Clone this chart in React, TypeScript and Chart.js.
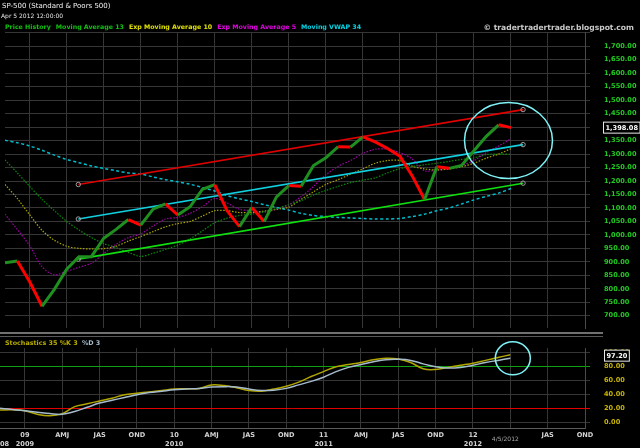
import React, { useEffect, useRef } from "react";
import { Chart, registerables } from "chart.js";

Chart.register(...registerables);

// ---------- data ----------
const MONTHS = [
  "Nov 2008", "Dec 2008",
  "Jan 2009", "Feb 2009", "Mar 2009", "Apr 2009", "May 2009", "Jun 2009", "Jul 2009", "Aug 2009", "Sep 2009", "Oct 2009", "Nov 2009", "Dec 2009",
  "Jan 2010", "Feb 2010", "Mar 2010", "Apr 2010", "May 2010", "Jun 2010", "Jul 2010", "Aug 2010", "Sep 2010", "Oct 2010", "Nov 2010", "Dec 2010",
  "Jan 2011", "Feb 2011", "Mar 2011", "Apr 2011", "May 2011", "Jun 2011", "Jul 2011", "Aug 2011", "Sep 2011", "Oct 2011", "Nov 2011", "Dec 2011",
  "Jan 2012", "Feb 2012", "Mar 2012", "Apr 2012",
];

const PRICE = [
  896.24, 903.25,
  825.88, 735.09, 797.87, 872.81, 919.14, 919.32, 987.48, 1020.62, 1057.08, 1036.19, 1095.63, 1115.1,
  1073.87, 1104.49, 1169.43, 1186.69, 1089.41, 1030.71, 1101.6, 1049.33, 1141.2, 1183.26, 1180.55, 1257.64,
  1286.12, 1327.22, 1325.83, 1363.61, 1345.2, 1320.64, 1292.28, 1218.89, 1131.42, 1253.3, 1246.96, 1257.6,
  1312.41, 1365.68, 1408.47, 1398.08,
];

const MA13 = [
  1278, 1230, 1180, 1132, 1090, 1050, 1018, 990, 968, 953,
  935, 920, 932, 946, 962, 985, 1015, 1045, 1062, 1072,
  1077, 1086, 1098, 1112, 1127, 1148, 1165, 1180, 1194, 1203,
  1212, 1230, 1246, 1254, 1260, 1266, 1273, 1280, 1286, 1298,
  1300, 1299,
];

const EMA10 = [
  1187, 1135, 1075, 1017, 980, 958, 950, 948, 949, 958,
  977, 994, 1012, 1030, 1042, 1050, 1070, 1090, 1090, 1083,
  1083, 1088, 1095, 1103, 1132, 1160, 1187, 1205, 1225, 1245,
  1266, 1276, 1276, 1255, 1245, 1241, 1245, 1253, 1266, 1285,
  1300, 1320,
];

const EMA5 = [
  1077, 1020, 960, 882, 852, 865, 880, 895, 931, 965,
  990, 1004, 1033, 1059, 1065, 1080, 1105, 1135, 1118, 1095,
  1090, 1085, 1095, 1112, 1142, 1180, 1223, 1255, 1276, 1302,
  1318, 1318, 1305, 1282, 1238, 1241, 1245, 1258, 1276, 1306,
  1330, 1357,
];

const VWAP34 = [
  1351, 1342, 1330, 1314, 1296, 1280, 1268, 1256, 1247, 1238,
  1230, 1226, 1215, 1205, 1197, 1188, 1176, 1163, 1146, 1134,
  1124, 1112, 1102, 1092, 1080, 1072, 1068, 1065, 1063, 1061,
  1059, 1059, 1061, 1068, 1077, 1090, 1100, 1115, 1130, 1143,
  1155, 1172,
];

const STOCH_K = [
  18, 18.5, 17, 12, 10, 13, 23, 27, 31, 35,
  40, 42, 44, 46, 48, 48.5, 49, 54, 53, 50,
  46, 45, 48, 52, 58, 66, 73, 80, 83, 86,
  90, 92, 91, 86, 77, 76, 79, 82, 85, 89,
  93, 97.2,
];

const STOCH_D = [
  20.5, 19, 17, 15, 13, 12, 16, 22, 28, 32,
  36, 40, 43, 45, 47, 48, 49, 51, 51.5, 51,
  48, 46, 46.5, 49, 54, 59, 65, 73, 79, 83,
  87, 90, 90.5, 89, 84, 80, 78, 79, 82, 86,
  89, 92,
];

// trend channel (x in month index, y in price)
const TREND_X = [5.94, 41.98];
const RED_TREND = [1187, 1465];
const CYAN_TREND = [1059, 1335];
const GREEN_TREND = [910, 1192];

// highlight circles (centres in data units)
const PRICE_FOCUS = { x: 40.8, y: 1350 };
const STOCH_FOCUS = { x: 41.2, y: 92 };

// ticks
const PRICE_TICKS = [700, 750, 800, 850, 900, 950, 1000, 1050, 1100, 1150, 1200, 1250, 1300, 1350, 1400, 1450, 1500, 1550, 1600, 1650, 1700, 1750];
const STOCH_TICKS = [0, 20, 40, 60, 80, 100];
const QUARTER_TICKS = [2, 5, 8, 11, 14, 17, 20, 23, 26, 29, 32, 35, 38, 41, 44, 47];
const QUARTER_LABELS: (string | string[])[] = [
  ["09", "2009"], "AMJ", "JAS", "OND",
  ["10", "2010"], "AMJ", "JAS", "OND",
  ["11", "2011"], "AMJ", "JAS", "OND",
  ["12", "2012"], "", "JAS", "OND",
];
const LAST_DATE_LABEL = "4/5/2012";
const LAST_DATE_INDEX = 41;

// ---------- styles ----------
const FONT = '"DejaVu Sans", Verdana, sans-serif';
const GRID = "#363636";
const PRICE_UP = "#1f8f1f";
const PRICE_DOWN = "#ff0000";

const fmtPrice = (v: number) =>
  v.toLocaleString("en-US", { minimumFractionDigits: 2, maximumFractionDigits: 2 });

const xy = (arr: number[]) => arr.map((v, i) => ({ x: i, y: v }));
const trend = (ys: number[]) => ys.map((v, i) => ({ x: TREND_X[i], y: v }));

function drawBox(ctx: CanvasRenderingContext2D, text: string, x: number, y: number) {
  ctx.font = `bold 6.6px ${FONT}`;
  const w = ctx.measureText(text).width + 4;
  ctx.fillStyle = "#000";
  ctx.fillRect(x, y - 6, w, 12);
  ctx.strokeStyle = "#e8e8e8";
  ctx.lineWidth = 1;
  ctx.strokeRect(x + 0.5, y - 5.5, w, 11);
  ctx.fillStyle = "#ffffff";
  ctx.textBaseline = "middle";
  ctx.textAlign = "left";
  ctx.fillText(text, x + 2.5, y + 0.5);
}

const priceOverlay = {
  id: "priceOverlay",
  afterDraw(chart: any) {
    const { ctx, scales, chartArea } = chart;
    const xs = scales.x, ys = scales.y;
    ctx.save();
    ctx.strokeStyle = "#7ff2f6";
    ctx.lineWidth = 1.5;
    ctx.beginPath();
    ctx.ellipse(xs.getPixelForValue(PRICE_FOCUS.x), ys.getPixelForValue(PRICE_FOCUS.y), 44, 38, 0, 0, Math.PI * 2);
    ctx.stroke();
    const last = PRICE[PRICE.length - 1];
    drawBox(ctx, fmtPrice(last), chartArea.right + 18, ys.getPixelForValue(last));
    ctx.restore();
  },
};

const stochOverlay = {
  id: "stochOverlay",
  afterDraw(chart: any) {
    const { ctx, scales, chartArea } = chart;
    const xs = scales.x, ys = scales.y;
    ctx.save();
    ctx.strokeStyle = "#7ff2f6";
    ctx.lineWidth = 1.5;
    ctx.beginPath();
    ctx.ellipse(xs.getPixelForValue(STOCH_FOCUS.x), ys.getPixelForValue(STOCH_FOCUS.y), 17.5, 16.5, 0, 0, Math.PI * 2);
    ctx.stroke();
    const last = STOCH_K[STOCH_K.length - 1];
    drawBox(ctx, last.toFixed(2), chartArea.right + 19, ys.getPixelForValue(last) + 1);
    ctx.font = `6px ${FONT}`;
    ctx.fillStyle = "#a8a8a8";
    ctx.textAlign = "center";
    ctx.textBaseline = "middle";
    ctx.fillText(LAST_DATE_LABEL, xs.getPixelForValue(LAST_DATE_INDEX) - 5, chartArea.bottom + 11);
    ctx.restore();
  },
};

const xScaleBase = (showLabels: boolean, height: number) => ({
  type: "linear" as const,
  min: 0,
  max: 47,
  afterBuildTicks: (s: any) => {
    s.ticks = QUARTER_TICKS.map((v) => ({ value: v }));
  },
  afterFit: (s: any) => {
    s.height = height;
    s.paddingLeft = 0;
    s.paddingRight = 0;
  },
  grid: { color: GRID, drawTicks: false },
  border: { display: showLabels, color: "#5c5c5c" },
  ticks: {
    display: showLabels,
    autoSkip: false,
    maxRotation: 0,
    padding: 2.5,
    color: "#d4d4d4",
    font: { family: FONT, size: 6.6, weight: "bold" as const, lineHeight: 1.36 },
    callback: (v: any) => {
      const i = QUARTER_TICKS.indexOf(Number(v));
      return i >= 0 ? QUARTER_LABELS[i] : "";
    },
  },
});

export default function App() {
  const priceRef = useRef<HTMLCanvasElement>(null);
  const stochRef = useRef<HTMLCanvasElement>(null);

  useEffect(() => {
    const price = new Chart(priceRef.current!, {
      type: "line",
      data: {
        datasets: [
          {
            label: "Price History",
            data: xy(PRICE),
            borderWidth: 3,
            borderColor: PRICE_UP,
            segment: {
              borderColor: (c: any) => (c.p1.parsed.y >= c.p0.parsed.y ? PRICE_UP : PRICE_DOWN),
            },
            pointRadius: 0,
            tension: 0,
            order: 0,
          },
          {
            label: "Moving Average 13",
            data: xy(MA13),
            borderWidth: 1.2,
            borderColor: "#0a8c0a",
            borderDash: [1.5, 1.5],
            pointRadius: 0,
            tension: 0.3,
            order: 5,
          },
          {
            label: "Exp Moving Average 10",
            data: xy(EMA10),
            borderWidth: 1.2,
            borderColor: "#a8a400",
            borderDash: [1.5, 1.5],
            pointRadius: 0,
            tension: 0.3,
            order: 5,
          },
          {
            label: "Exp Moving Average 5",
            data: xy(EMA5),
            borderWidth: 1.2,
            borderColor: "#a000a8",
            borderDash: [1.5, 1.5],
            pointRadius: 0,
            tension: 0.3,
            order: 5,
          },
          {
            label: "Moving VWAP 34",
            data: xy(VWAP34),
            borderWidth: 1.5,
            borderColor: "#00bccc",
            borderDash: [3, 2.5],
            pointRadius: 0,
            tension: 0.3,
            order: 5,
          },
          {
            label: "Resistance",
            data: trend(RED_TREND),
            borderWidth: 1.6,
            borderColor: "#e00000",
            pointRadius: 2.2,
            pointBorderWidth: 1,
            pointBorderColor: "#a0a0a0",
            pointBackgroundColor: "rgba(0,0,0,0)",
            order: 2,
          },
          {
            label: "Mid",
            data: trend(CYAN_TREND),
            borderWidth: 1.6,
            borderColor: "#10d0e0",
            pointRadius: 2.2,
            pointBorderWidth: 1,
            pointBorderColor: "#a0a0a0",
            pointBackgroundColor: "rgba(0,0,0,0)",
            order: 2,
          },
          {
            label: "Support",
            data: trend(GREEN_TREND),
            borderWidth: 1.6,
            borderColor: "#10e010",
            pointRadius: 2.2,
            pointBorderWidth: 1,
            pointBorderColor: "#a0a0a0",
            pointBackgroundColor: "rgba(0,0,0,0)",
            order: 2,
          },
        ],
      },
      options: {
        responsive: false,
        animation: false,
        events: [],
        layout: { padding: { top: 32, bottom: 0, left: 0, right: 0 } },
        plugins: { legend: { display: false }, tooltip: { enabled: false } },
        scales: {
          x: xScaleBase(false, 0) as any,
          y: {
            position: "right",
            min: 654.5,
            max: 1753,
            afterBuildTicks: (s: any) => {
              s.ticks = PRICE_TICKS.map((v) => ({ value: v }));
            },
            afterFit: (s: any) => {
              s.width = 55;
              s.paddingTop = 0;
              s.paddingBottom = 0;
            },
            grid: { color: GRID, tickLength: 5 },
            border: { color: "#4a4a4a" },
            ticks: {
              padding: 14,
              color: "#22cc22",
              font: { family: FONT, size: 6.6, weight: "bold" },
              callback: (v: any) => (Number(v) === 1750 ? "" : fmtPrice(Number(v))),
            },
          },
        },
      },
      plugins: [priceOverlay],
    });

    const stoch = new Chart(stochRef.current!, {
      type: "line",
      data: {
        datasets: [
          {
            label: "%D 3",
            data: xy(STOCH_D),
            borderWidth: 1.5,
            borderColor: "#a6bccc",
            pointRadius: 0,
            tension: 0.4,
          },
          {
            label: "Stochastics 35 %K 3",
            data: xy(STOCH_K),
            borderWidth: 1.5,
            borderColor: "#b2a600",
            pointRadius: 0,
            tension: 0.4,
          },
        ],
      },
      options: {
        responsive: false,
        animation: false,
        events: [],
        layout: { padding: { top: 14, bottom: 0, left: 0, right: 0 } },
        plugins: { legend: { display: false }, tooltip: { enabled: false } },
        scales: {
          x: xScaleBase(true, 20) as any,
          y: {
            position: "right",
            min: -7.6,
            max: 106.7,
            afterBuildTicks: (s: any) => {
              s.ticks = STOCH_TICKS.map((v) => ({ value: v }));
            },
            afterFit: (s: any) => {
              s.width = 55;
              s.paddingTop = 0;
              s.paddingBottom = 0;
            },
            grid: {
              tickLength: 5,
              color: (c: any) =>
                c.tick && c.tick.value === 80 ? "#10a010" : c.tick && c.tick.value === 20 ? "#e00000" : GRID,
            },
            border: { color: "#4a4a4a" },
            ticks: {
              padding: 14,
              color: "#c8b400",
              font: { family: FONT, size: 6.6, weight: "bold" },
              callback: (v: any) => Number(v).toFixed(2),
            },
          },
        },
      },
      plugins: [stochOverlay],
    });

    return () => {
      price.destroy();
      stoch.destroy();
    };
  }, []);

  const abs = (left: number, top: number, size: number, color: string, bold = false): React.CSSProperties => ({
    position: "absolute",
    left,
    top,
    fontFamily: FONT,
    fontSize: size,
    fontWeight: bold ? "bold" : "normal",
    color,
    lineHeight: 1,
    whiteSpace: "nowrap",
  });

  const legend: [string, string][] = [
    ["Price History", "#10c010"],
    ["Moving Average 13", "#10c010"],
    ["Exp Moving Average 10", "#e0e000"],
    ["Exp Moving Average 5", "#e000e0"],
    ["Moving VWAP 34", "#00d4e4"],
  ];

  return (
    <div style={{ position: "fixed", left: 0, top: 0, width: 640, height: 448, background: "#000", overflow: "hidden" }}>
      <canvas ref={priceRef} width={640} height={333} style={{ position: "absolute", left: 0, top: 0, width: 640, height: 333 }} />
      <canvas ref={stochRef} width={640} height={114} style={{ position: "absolute", left: 0, top: 334, width: 640, height: 114 }} />

      <div style={{ position: "absolute", left: 0, top: 332, width: 603, height: 2, background: "#707070" }} />
      <div style={{ position: "absolute", left: 0, top: 336, width: 603, height: 1, background: "#585858" }} />

      <div style={abs(2, 2.5, 7, "#f2f2f2")}>SP-500 (Standard &amp; Poors 500)</div>
      <div style={abs(1, 13, 6, "#e6e6e6")}>Apr 5 2012 12:00:00</div>
      <div style={{ ...abs(5, 24, 6.3, "#fff", true), display: "flex", gap: 5 }}>
        {legend.map(([t, c]) => (
          <span key={t} style={{ color: c }}>{t}</span>
        ))}
      </div>
      <div style={{ ...abs(0, 23.5, 7.6, "#c8c8c8", true), left: "auto", right: 6 }}>© tradertradertrader.blogspot.com</div>
      <div style={abs(5, 340, 6.4, "#b8ac00", true)}>
        Stochastics 35 %K 3 <span style={{ color: "#a6bccc", marginLeft: 2 }}>%D 3</span>
      </div>
      <div style={abs(0, 441, 6.6, "#d4d4d4", true)}>08</div>
    </div>
  );
}
